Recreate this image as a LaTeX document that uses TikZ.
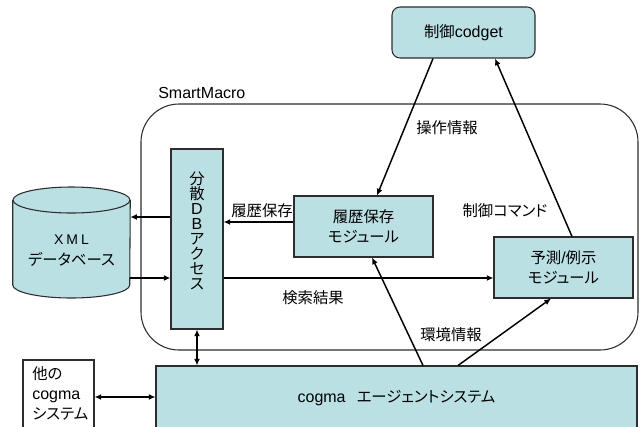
\documentclass[tikz,border=0pt]{standalone}
\usepackage{fontspec}
\setmainfont{Liberation Sans}
\newfontfamily\jp[Scale=0.96,RawFeature=+palt]{Noto Sans CJK JP}
\usetikzlibrary{arrows.meta,calc}

\definecolor{boxfill}{RGB}{187,224,227}
\definecolor{edge}{RGB}{45,45,45}

\begin{document}
\begin{tikzpicture}[x=0.75pt,y=-0.75pt,
  every node/.style={font=\fontsize{12}{14}\selectfont},
  box/.style={draw=edge, line width=0.8pt, fill=boxfill, inner sep=0pt, align=center},
  blk/.style={inner sep=0pt},
  tip/.style={-{Latex[length=5pt,width=4.5pt]}},
  conn/.style={line width=1.1pt, black, tip},
  both/.style={line width=1.1pt, black, {Latex[length=5pt,width=4.5pt]}-{Latex[length=5pt,width=4.5pt]}},
  lbl/.style={inner sep=0pt}
]
\useasboundingbox (0,0) rectangle (641,426);
\begin{scope}
\clip (0,0) rectangle (641,426);

% SmartMacro frame
\node[draw=edge, line width=0.8pt, rounded corners=28.5pt, minimum width=497*0.75pt, minimum height=246*0.75pt, inner sep=0pt] (smart) at (389.5,227) {};
\node[lbl, anchor=west] (smartlbl) at (158,93) {SmartMacro};

% control codget
\node[box, rounded corners=6pt, minimum width=143*0.75pt, minimum height=51*0.75pt] (codget) at (463.5,32.5) {{\jp 制御}codget};

% distributed DB access (vertical text)
\node[box, minimum width=52*0.75pt, minimum height=180*0.75pt] (db) at (197,239) {};
\node[lbl, align=center, font=\fontsize{12}{11.2}\selectfont] (dbtxt) at (197,231)
  {{\jp 分}\\{\jp 散}\\D\\B\\{\jp ア}\\{\jp ク}\\{\jp セ}\\{\jp ス}};

% XML database cylinder
\node[blk, minimum width=117*0.75pt, minimum height=111*0.75pt] (cyl) at (71.5,242.5) {};
\fill[boxfill] (cyl.west |- 0,200) -- (cyl.west |- 0,285) arc[start angle=180, end angle=360, x radius=43.875pt, y radius=9.75pt]
  -- (cyl.east |- 0,200) arc[start angle=0, end angle=180, x radius=43.875pt, y radius=9.75pt] -- cycle;
\draw[edge, line width=0.8pt] (cyl.west |- 0,200) -- (cyl.west |- 0,285) arc[start angle=180, end angle=360, x radius=43.875pt, y radius=9.75pt]
  -- (cyl.east |- 0,200);
\draw[edge, line width=0.8pt] (cyl.center |- 0,200) ellipse[x radius=43.875pt, y radius=9.75pt];
\node[lbl, font=\fontsize{10.5}{12}\selectfont] (xmltxt) at (71.5,240) {X\hspace{2.2pt}M\hspace{2.2pt}L};
\node[lbl] (dbname) at (71.5,259) {\jp データベース};

% modules
\node[box, minimum width=139*0.75pt, minimum height=61*0.75pt] (hist) at (363.5,226.5)
  {\jp 履歴保存\\[1pt]\jp モジュール};
\node[box, minimum width=139*0.75pt, minimum height=61*0.75pt] (pred) at (563.5,267.5)
  {{\jp 予測}/{\jp 例示}\\[1pt]\jp モジュール};

% cogma agent system
\node[box, minimum width=481*0.75pt, minimum height=64*0.75pt] (cogma) at (396.5,398)
  {cogma\hspace{0.7em}{\jp エージェントシステム}};

% other cogma systems
\node[draw=edge, line width=0.8pt, fill=white, inner sep=0pt, minimum width=71*0.75pt, minimum height=80*0.75pt] (other) at (58.5,400) {};
\node[lbl, anchor=north west, align=left, font=\fontsize{12}{15}\selectfont] (othertxt) at (32,366)
  {{\jp 他の}\\cogma\\{\jp システム}};

% connectors
\draw[conn] (db.west |- 0,217) -- (cyl.east |- 0,217);
\draw[conn] (cyl.east |- 0,278) -- (db.west |- 0,278);
\draw[conn] (hist.west |- 0,222) -- (db.east |- 0,222);
\draw[conn] (db.east |- 0,278) -- (pred.west |- 0,278);
\draw[conn] (codget.south -| 433,0) -- (hist.north -| 377,0);
\draw[conn] (pred.north -| 572,0) -- (codget.south -| 495,0);
\draw[conn] (cogma.north -| 423,0) -- (hist.south -| 372,0);
\draw[conn] (cogma.north -| 458,0) -- (pred.south -| 551,0);
\draw[both] (db.south) -- (cogma.north -| db.south);
\draw[both] (other.east |- 0,397) -- (cogma.west |- 0,397);

% connector labels
\node[lbl] (l1) at (262,211) {\jp 履歴保存};
\node[lbl] (l2) at (313,298) {\jp 検索結果};
\node[lbl] (l3) at (447,128) {\jp 操作情報};
\node[lbl] (l4) at (505,211) {\jp 制御コマンド};
\node[lbl] (l5) at (451,335) {\jp 環境情報};
\end{scope}
\end{tikzpicture}
\end{document}
